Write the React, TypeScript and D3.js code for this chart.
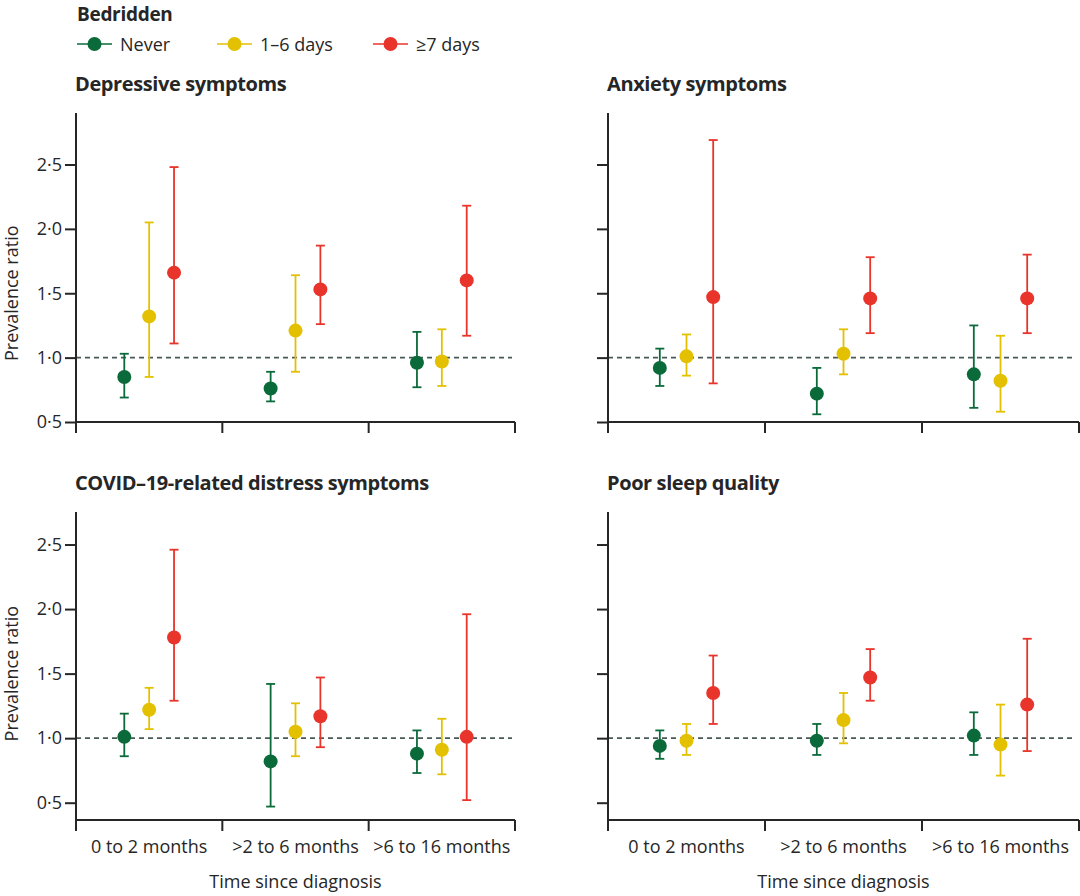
import React, { useEffect, useRef } from 'react';
import * as d3 from 'd3';

const CATEGORIES = ['0 to 2 months', '>2 to 6 months', '>6 to 16 months'];
const SERIES = ['Never', '1–6 days', '≥7 days'];
const Y_TICKS = [0.5, 1.0, 1.5, 2.0, 2.5];

// Each array: one row per series (Never, 1–6 days, ≥7 days), one value per category
const DEPRESSIVE_PR = [[0.85, 0.76, 0.96], [1.32, 1.21, 0.97], [1.66, 1.53, 1.6]];
const DEPRESSIVE_LO = [[0.69, 0.66, 0.77], [0.85, 0.89, 0.78], [1.11, 1.26, 1.17]];
const DEPRESSIVE_HI = [[1.03, 0.89, 1.2], [2.05, 1.64, 1.22], [2.48, 1.87, 2.18]];

const ANXIETY_PR = [[0.92, 0.72, 0.87], [1.01, 1.03, 0.82], [1.47, 1.46, 1.46]];
const ANXIETY_LO = [[0.78, 0.56, 0.61], [0.86, 0.87, 0.58], [0.8, 1.19, 1.19]];
const ANXIETY_HI = [[1.07, 0.92, 1.25], [1.18, 1.22, 1.17], [2.69, 1.78, 1.8]];

const DISTRESS_PR = [[1.01, 0.82, 0.88], [1.22, 1.05, 0.91], [1.78, 1.17, 1.01]];
const DISTRESS_LO = [[0.86, 0.47, 0.73], [1.07, 0.86, 0.72], [1.29, 0.93, 0.52]];
const DISTRESS_HI = [[1.19, 1.42, 1.06], [1.39, 1.27, 1.15], [2.46, 1.47, 1.96]];

const SLEEP_PR = [[0.94, 0.98, 1.02], [0.98, 1.14, 0.95], [1.35, 1.47, 1.26]];
const SLEEP_LO = [[0.84, 0.87, 0.87], [0.87, 0.96, 0.71], [1.11, 1.29, 0.9]];
const SLEEP_HI = [[1.06, 1.11, 1.2], [1.11, 1.35, 1.26], [1.64, 1.69, 1.77]];

const COLORS = ['#0b6a3a', '#e3c100', '#e8342b'];
const INK = '#262626';
const REF = '#485a56';
const FONT = '"Open Sans", Lato, sans-serif';
const TEXT_SIZE = 18;
const TITLE_SIZE = 20;

interface Panel {
  title: string;
  pr: number[][];
  lo: number[][];
  hi: number[][];
  left: number;
  right: number;
  top: number;
  bottom: number;
  domain: [number, number];
  yLabels: boolean;
  xLabels: boolean;
}

const PANELS: Panel[] = [
  { title: 'Depressive symptoms', pr: DEPRESSIVE_PR, lo: DEPRESSIVE_LO, hi: DEPRESSIVE_HI,
    left: 76, right: 515, top: 113, bottom: 422, domain: [0.5, 2.9], yLabels: true, xLabels: false },
  { title: 'Anxiety symptoms', pr: ANXIETY_PR, lo: ANXIETY_LO, hi: ANXIETY_HI,
    left: 608, right: 1079, top: 113, bottom: 422, domain: [0.5, 2.9], yLabels: false, xLabels: false },
  { title: 'COVID–19-related distress symptoms', pr: DISTRESS_PR, lo: DISTRESS_LO, hi: DISTRESS_HI,
    left: 76, right: 515, top: 512, bottom: 820, domain: [0.366, 2.752], yLabels: true, xLabels: true },
  { title: 'Poor sleep quality', pr: SLEEP_PR, lo: SLEEP_LO, hi: SLEEP_HI,
    left: 608, right: 1079, top: 512, bottom: 820, domain: [0.366, 2.752], yLabels: false, xLabels: true },
];

const fmt = (v: number) => d3.format('.1f')(v).replace('.', '·');

const App: React.FC = () => {
  const svgRef = useRef<SVGSVGElement>(null);

  useEffect(() => {
    if (!svgRef.current) return;
    const root = d3.select(svgRef.current);
    root.selectAll('*').remove();

    // Legend
    const legend = root.append('g');
    legend.append('text').attr('x', 77).attr('y', 21).attr('font-family', FONT)
      .attr('font-size', 19).attr('font-weight', 700).attr('fill', INK)
      .attr('letter-spacing', -0.3).text('Bedridden');
    const legendX = [77, 217, 373];
    SERIES.forEach((s, i) => {
      const g = legend.append('g').attr('transform', `translate(${legendX[i]},44)`);
      g.append('line').attr('x1', 0).attr('x2', 35).attr('stroke', COLORS[i]).attr('stroke-width', 1.5);
      g.append('circle').attr('cx', 17.5).attr('r', 7).attr('fill', COLORS[i]);
      g.append('text').attr('x', 43).attr('y', 7).attr('font-family', FONT).attr('font-size', TEXT_SIZE)
        .attr('fill', INK).text(s);
    });

    PANELS.forEach(p => {
      const g = root.append('g');
      const y = d3.scaleLinear().domain(p.domain).range([p.bottom, p.top]);
      const x = d3.scaleBand().domain(CATEGORIES).range([p.left, p.right]);
      const bw = x.bandwidth();
      const inner = d3.scalePoint().domain(SERIES).range([-0.17 * bw, 0.17 * bw]);

      g.append('text').attr('x', p.left - 1).attr('y', p.top - 22).attr('font-family', FONT)
        .attr('font-size', TITLE_SIZE).attr('font-weight', 700).attr('fill', INK)
        .attr('letter-spacing', -0.4).text(p.title);

      // reference line at 1
      g.append('line').attr('x1', p.left).attr('x2', p.right - 3)
        .attr('y1', y(1)).attr('y2', y(1))
        .attr('stroke', REF).attr('stroke-width', 1.7).attr('stroke-dasharray', '5,4');

      // y axis
      const yAxis = g.append('g').attr('transform', `translate(${p.left},0)`)
        .call(d3.axisLeft(y).tickValues(Y_TICKS).tickSize(11).tickPadding(3)
          .tickFormat(d => (p.yLabels ? fmt(d as number) : '')));
      yAxis.select('.domain').attr('d', `M0,${p.top}V${p.bottom}`);

      // x axis with boundary ticks
      const xAxis = g.append('g').attr('transform', `translate(0,${p.bottom})`);
      xAxis.append('line').attr('x1', p.left).attr('x2', p.right);
      const bounds = [...CATEGORIES.map(c => x(c) as number), p.right];
      xAxis.selectAll('.bound').data(bounds).enter().append('line')
        .attr('x1', d => d).attr('x2', d => d).attr('y1', 0).attr('y2', 11);
      xAxis.selectAll('line').attr('stroke', INK).attr('stroke-width', 2);
      yAxis.selectAll('line, path').attr('stroke', INK).attr('stroke-width', 2);
      yAxis.selectAll('text').attr('font-family', FONT).attr('font-size', TEXT_SIZE).attr('fill', INK);

      if (p.xLabels) {
        xAxis.selectAll('.cat').data(CATEGORIES).enter().append('text')
          .attr('x', d => (x(d) as number) + bw / 2).attr('y', 33)
          .attr('text-anchor', 'middle').attr('font-family', FONT).attr('font-size', TEXT_SIZE)
          .attr('fill', INK).text(d => d);
        g.append('text').attr('x', (p.left + p.right) / 2).attr('y', p.bottom + 68)
          .attr('text-anchor', 'middle').attr('font-family', FONT).attr('font-size', TEXT_SIZE)
          .attr('fill', INK).text('Time since diagnosis');
      }

      if (p.yLabels) {
        g.append('text')
          .attr('transform', `translate(18,${(y(0.5) + y(2.5)) / 2}) rotate(-90)`)
          .attr('text-anchor', 'middle').attr('font-family', FONT).attr('font-size', TEXT_SIZE)
          .attr('fill', INK).text('Prevalence ratio');
      }

      // error bars and points
      SERIES.forEach((s, si) => {
        CATEGORIES.forEach((c, ci) => {
          const cx = (x(c) as number) + bw / 2 + (inner(s) as number);
          const col = COLORS[si];
          const lo = y(p.lo[si][ci]);
          const hi = y(p.hi[si][ci]);
          g.append('line').attr('x1', cx).attr('x2', cx).attr('y1', lo).attr('y2', hi)
            .attr('stroke', col).attr('stroke-width', 1.8);
          [lo, hi].forEach(yy =>
            g.append('line').attr('x1', cx - 4.5).attr('x2', cx + 4.5).attr('y1', yy).attr('y2', yy)
              .attr('stroke', col).attr('stroke-width', 1.8));
          g.append('circle').attr('cx', cx).attr('cy', y(p.pr[si][ci])).attr('r', 7).attr('fill', col);
        });
      });
    });
  }, []);

  return (
    <svg
      ref={svgRef}
      width={1080}
      height={896}
      style={{ position: 'absolute', left: 0, top: 0, background: '#fff' }}
    />
  );
};

export default App;
